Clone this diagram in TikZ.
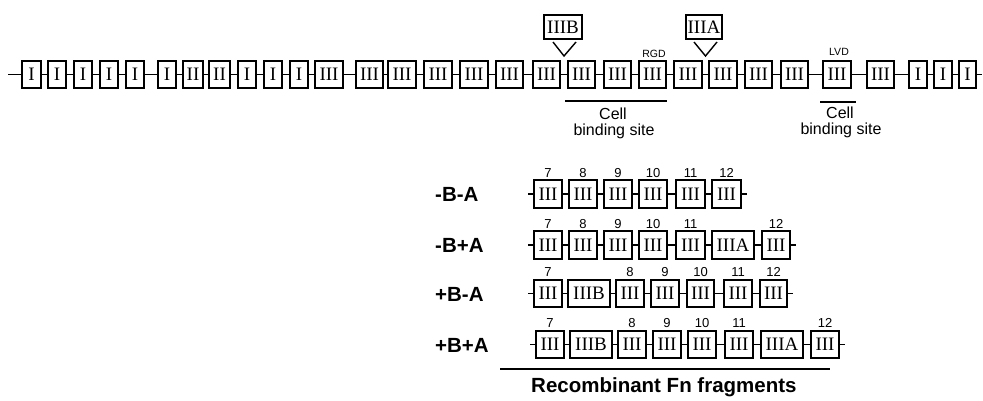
\documentclass[tikz,border=0pt]{standalone}
\usepackage{fontspec}
\setmainfont{Liberation Serif}
\newfontfamily\lsans{Liberation Sans}
\newcommand\Dom[5]{\node[dom, minimum width={#3-#2-1.8}] (#1) at ({(#2+#3)/2},#4) {#5};}
\begin{document}
\begin{tikzpicture}[x=1pt,y=-1pt,
  dom/.style={draw, line width=1.8pt, minimum height=27.5pt, inner sep=0pt,
    font=\fontsize{19}{19}\selectfont},
  link/.style={line width=1.4pt},
  num/.style={font=\lsans\fontsize{13}{13}\selectfont, anchor=south, inner sep=0pt, yshift=2pt},
  lab/.style={font=\lsans\bfseries\fontsize{20.5}{20.5}\selectfont, inner sep=0pt},
  cell/.style={font=\lsans\fontsize{16}{16}\selectfont, inner sep=0pt, anchor=base},
  motif/.style={font=\lsans\fontsize{10.5}{10.5}\selectfont, inner sep=0pt, anchor=base}]
\useasboundingbox (0,0) rectangle (983,400);

% ---------- top row ----------
\foreach \i/\l/\r/\t in {1/21/42/I,2/47/67/I,3/73/93/I,4/99/119/I,5/125/145/I,
  6/157/177/I,7/182/204/II,8/208/231/II,9/237/257/I,10/263/283/I,11/289/309/I,
  12/314/344/III,13/355/384/III,14/387/417/III,15/423/453/III,16/459/489/III,
  17/495/524/III,18/532/561/III,19/567/596/III,20/603/632/III,21/638/667/III,
  22/673/703/III,23/708/738/III,24/744/773/III,25/780/809/III,26/822/852/III,
  27/866/895/III,28/908/928/I,29/933/953/I,30/958/977/I}
  {\Dom{t\i}{\l}{\r}{74.5}{\t}}
\coordinate (tL) at (8,74.5);
\coordinate (tR) at (982,74.5);
\draw[link] (tL) -- (t1);
\foreach \n [evaluate=\n as \m using int(\n+1)] in {1,...,29}
  \draw[link] (t\n) -- (t\m);
\draw[link] (t30) -- (tR);

% inserts
\node[dom, minimum width=38, minimum height=24.5] (iB) at (563,27) {IIIB};
\node[dom, minimum width=36.5, minimum height=24.5] (iA) at (704,27) {IIIA};
\coordinate (vB1) at (553,42); \coordinate (vB) at (564,56); \coordinate (vB2) at (576,42);
\coordinate (vA1) at (694,42); \coordinate (vA) at (705.5,56); \coordinate (vA2) at (717,42);
\draw[link] (vB1) -- (vB) -- (vB2);
\draw[link] (vA1) -- (vA) -- (vA2);

% motifs
\node[motif] (rgd) at (654,57) {RGD};
\node[motif] (lvd) at (839,55.5) {LVD};

% cell binding sites
\coordinate (c1a) at (565,101); \coordinate (c1b) at (667,101);
\draw[link] (c1a) -- (c1b);
\node[cell] (c1t) at (613,119) {Cell};
\node[cell] (c1u) at (614,135) {binding site};
\coordinate (c2a) at (820,102); \coordinate (c2b) at (856,102);
\draw[link] (c2a) -- (c2b);
\node[cell] (c2t) at (840,118) {Cell};
\node[cell] (c2u) at (841,134) {binding site};

% ---------- recombinant rows ----------
\node[lab, anchor=base west] (L1) at (435,201.5) {-B-A};
\node[lab, anchor=base west] (L2) at (435,252.5) {-B+A};
\node[lab, anchor=base west] (L3) at (435,301) {+B-A};
\node[lab, anchor=base west] (L4) at (435,352) {+B+A};

% row 1
\foreach \i/\l/\r/\t in {1/533/563/III,2/568/598/III,3/603/633/III,4/638/668/III,5/675/706/III,6/711/742/III}
  {\Dom{a\i}{\l}{\r}{194}{\t}}
\coordinate (aL) at (528,194); \coordinate (aR) at (747,194);
\draw[link] (aL) -- (a1);
\foreach \n [evaluate=\n as \m using int(\n+1)] in {1,...,5} \draw[link] (a\n) -- (a\m);
\draw[link] (a6) -- (aR);
\foreach \i/\k in {1/7,2/8,3/9,4/10,5/11,6/12} \node[num] (na\i) at (a\i.north) {\k};

% row 2
\foreach \i/\l/\r/\t in {1/533/563/III,2/568/598/III,3/603/633/III,4/638/668/III,5/675/706/III,6/711/755/IIIA,7/761/791/III}
  {\Dom{b\i}{\l}{\r}{245}{\t}}
\coordinate (bL) at (528,245); \coordinate (bR) at (796,245);
\draw[link] (bL) -- (b1);
\foreach \n [evaluate=\n as \m using int(\n+1)] in {1,...,6} \draw[link] (b\n) -- (b\m);
\draw[link] (b7) -- (bR);
\foreach \i/\k in {1/7,2/8,3/9,4/10,5/11,7/12} \node[num] (nb\i) at (b\i.north) {\k};

% row 3
\foreach \i/\l/\r/\t in {1/533/563/III,2/567/611/IIIB,3/615/645/III,4/650/680/III,5/686/715/III,6/723/753/III,7/759/788/III}
  {\Dom{c\i}{\l}{\r}{293.5}{\t}}
\coordinate (cL) at (528,293.5); \coordinate (cR) at (793,293.5);
\draw[link] (cL) -- (c1);
\foreach \n [evaluate=\n as \m using int(\n+1)] in {1,...,6} \draw[link] (c\n) -- (c\m);
\draw[link] (c7) -- (cR);
\foreach \i/\k in {1/7,3/8,4/9,5/10,6/11,7/12} \node[num] (nc\i) at (c\i.north) {\k};

% row 4
\foreach \i/\l/\r/\t in {1/535/565/III,2/569/613/IIIB,3/617/647/III,4/652/682/III,5/687/717/III,6/724/754/III,7/760/804/IIIA,8/810/840/III}
  {\Dom{d\i}{\l}{\r}{344.5}{\t}}
\coordinate (dL) at (530,344.5); \coordinate (dR) at (845,344.5);
\draw[link] (dL) -- (d1);
\foreach \n [evaluate=\n as \m using int(\n+1)] in {1,...,7} \draw[link] (d\n) -- (d\m);
\draw[link] (d8) -- (dR);
\foreach \i/\k in {1/7,3/8,4/9,5/10,6/11,8/12} \node[num] (nd\i) at (d\i.north) {\k};

% caption
\coordinate (rl) at (500,369); \coordinate (rr) at (830,369);
\draw[link] (rl) -- (rr);
\node[lab, anchor=base west] (rec) at (531,392) {Recombinant Fn fragments};
\end{tikzpicture}
\end{document}
